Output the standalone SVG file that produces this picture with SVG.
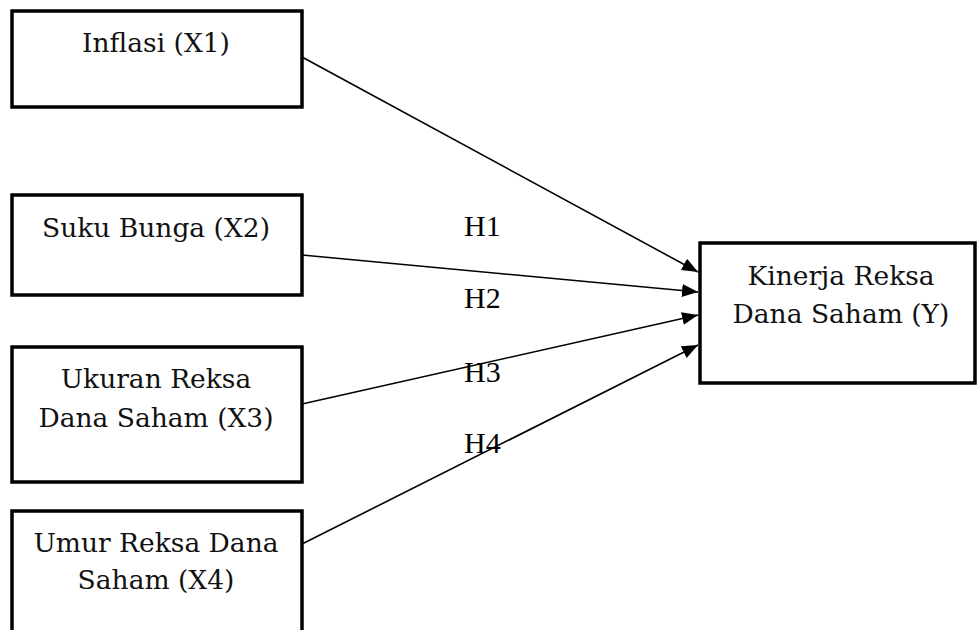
<svg xmlns="http://www.w3.org/2000/svg" width="977" height="630" viewBox="0 0 977 630">
<style>
.box{fill:#fff;stroke:#000;stroke-width:3.5}
.t{font-family:"DejaVu Serif","Liberation Serif",serif;font-size:26.5px;fill:#111;text-anchor:middle}
.h{font-family:"Liberation Serif","Times New Roman",serif;font-size:30px;fill:#000}
.c{stroke:#000;stroke-width:1.6;fill:none;marker-end:url(#ah)}
</style>
<defs>
<marker id="ah" markerUnits="userSpaceOnUse" markerWidth="16" markerHeight="13" refX="16" refY="6.5" orient="auto">
<path d="M0,0 L16,6.5 L0,13 z" fill="#000"/>
</marker>
</defs>
<rect width="977" height="630" fill="#fff"/>
<g id="connectors">
<line class="c" x1="302" y1="57" x2="698" y2="272"/>
<line class="c" x1="302" y1="255" x2="698" y2="292"/>
<line class="c" x1="302" y1="404" x2="698" y2="315"/>
<line class="c" x1="302" y1="544" x2="698" y2="345"/>
</g>
<g id="x1"><rect class="box" x="12" y="11" width="290" height="96"/><text class="t" x="156" y="52">Inflasi (X1)</text></g>
<g id="x2"><rect class="box" x="12" y="195" width="290" height="100"/><text class="t" x="156" y="237">Suku Bunga (X2)</text></g>
<g id="x3"><rect class="box" x="12" y="347" width="290" height="135"/><text class="t" x="156" y="388">Ukuran Reksa</text><text class="t" x="156" y="427">Dana Saham (X3)</text></g>
<g id="x4"><rect class="box" x="12" y="511" width="290" height="140"/><text class="t" x="156" y="552">Umur Reksa Dana</text><text class="t" x="156" y="589">Saham (X4)</text></g>
<g id="y"><rect class="box" x="700" y="243" width="275" height="140"/><text class="t" x="841" y="285">Kinerja Reksa</text><text class="t" x="841" y="323">Dana Saham (Y)</text></g>
<g id="labels">
<text class="h" x="464" y="236">H1</text>
<text class="h" x="464" y="308">H2</text>
<text class="h" x="464" y="382">H3</text>
<text class="h" x="464" y="453">H4</text>
</g>
</svg>
